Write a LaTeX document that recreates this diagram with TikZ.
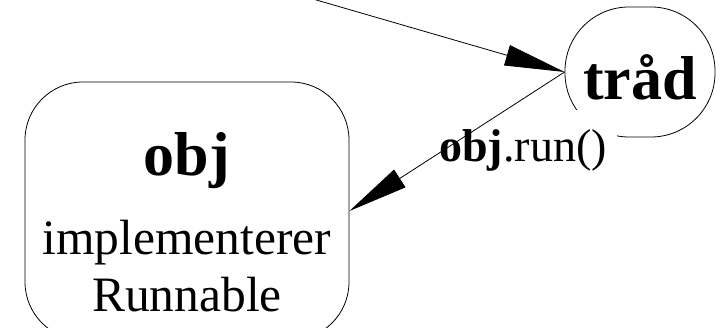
\documentclass[tikz,border=0pt]{standalone}
\usepackage{fontspec}
\setmainfont{Liberation Serif}
\usetikzlibrary{arrows.meta}
\begin{document}
\begin{tikzpicture}[x=1pt,y=-1pt,line width=0.8pt,
  objbox/.style={draw,rounded corners=58pt,minimum width=324pt,minimum height=258pt,inner sep=0pt},
  tradbox/.style={draw,rounded corners=64pt,minimum width=150pt,minimum height=130pt,inner sep=0pt},
  bigbold/.style={anchor=base,inner sep=0pt,font=\fontsize{62}{62}\selectfont\bfseries},
  bodytext/.style={anchor=base,inner sep=0pt,font=\fontsize{49.5}{50}\selectfont},
  lbltext/.style={anchor=base,fill=white,text height=40pt,inner xsep=10pt,inner ysep=12pt,font=\fontsize{46}{46}\selectfont},
  arr/.style={-{Triangle[length=60pt,width=21pt]}}]
\useasboundingbox (0,0) rectangle (722,328);
\node[objbox] (obj) at (187,211) {};
\node[bigbold] (objt) at (187,176) {obj};
\node[bodytext] (impl) at (187,255) {implementerer};
\node[bodytext] (runn) at (187,311) {Runnable};
\node[tradbox] (trad) at (640,72) {};
\node[bigbold] (tradt) at (640,100) {tråd};
\node[lbltext] (lbl) at (523,162) {\textbf{obj}.run()};
\coordinate (src) at (306,-3);
\draw[arr] (src) -- (trad.west);
\draw[arr] (trad.west) -- (obj.east);
\end{tikzpicture}
\end{document}
